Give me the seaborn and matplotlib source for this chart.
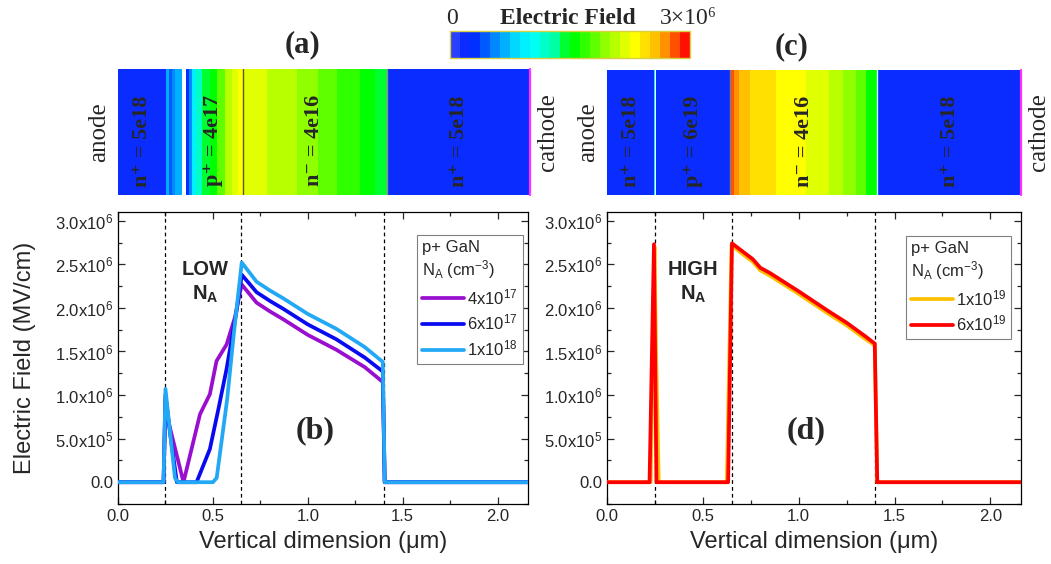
import numpy as np
import pandas as pd
import seaborn as sns
import matplotlib.pyplot as plt
from matplotlib.colors import ListedColormap, Normalize
from matplotlib.cm import ScalarMappable
from matplotlib.ticker import FuncFormatter, MultipleLocator

# ---- data (position in um, field in V/cm) ----
# panel (b): low p+ doping
x_4e17 = [0.0, 0.24, 0.25, 0.265, 0.345, 0.432, 0.484, 0.519, 0.572, 0.616, 0.651,
          0.73, 0.80, 0.87, 1.0, 1.15, 1.30, 1.395, 1.405, 2.16]
E_4e17 = [0, 0, 0.95e6, 0.7e6, 0, 0.78e6, 1.01e6, 1.39e6, 1.58e6, 1.89e6, 2.27e6,
          2.06e6, 1.96e6, 1.87e6, 1.69e6, 1.52e6, 1.32e6, 1.15e6, 0, 0]

x_6e17 = [0.0, 0.24, 0.25, 0.275, 0.31, 0.414, 0.484, 0.53, 0.572, 0.625, 0.652,
          0.73, 0.80, 0.87, 1.0, 1.15, 1.30, 1.395, 1.405, 2.16]
E_6e17 = [0, 0, 1.0e6, 0.55e6, 0, 0, 0.38e6, 0.85e6, 1.3e6, 1.97e6, 2.38e6,
          2.18e6, 2.08e6, 1.99e6, 1.81e6, 1.64e6, 1.43e6, 1.27e6, 0, 0]

x_1e18 = [0.0, 0.24, 0.25, 0.30, 0.315, 0.50, 0.52, 0.575, 0.61, 0.652,
          0.73, 0.80, 0.87, 1.0, 1.15, 1.30, 1.395, 1.405, 2.16]
E_1e18 = [0, 0, 1.07e6, 0.05e6, 0, 0, 0.05e6, 0.95e6, 1.7e6, 2.52e6,
          2.30e6, 2.20e6, 2.11e6, 1.93e6, 1.76e6, 1.55e6, 1.38e6, 0, 0]

# panel (d): high p+ doping
x_1e19 = [0.0, 0.228, 0.248, 0.255, 0.27, 0.625, 0.65, 0.70, 0.76, 0.80, 0.85,
          1.0, 1.15, 1.25, 1.30, 1.35, 1.397, 1.41, 2.16]
E_1e19 = [0, 0, 2.7e6, 1.6e6, 0, 0, 2.72e6, 2.63e6, 2.53e6, 2.43e6, 2.37e6,
          2.16e6, 1.94e6, 1.80e6, 1.72e6, 1.64e6, 1.57e6, 0, 0]

x_6e19 = [0.0, 0.222, 0.245, 0.258, 0.632, 0.652, 0.70, 0.76, 0.80, 0.85,
          1.0, 1.15, 1.25, 1.30, 1.35, 1.397, 1.41, 2.16]
E_6e19 = [0, 0, 2.73e6, 0, 0, 2.74e6, 2.66e6, 2.56e6, 2.46e6, 2.40e6,
          2.19e6, 1.97e6, 1.83e6, 1.75e6, 1.67e6, 1.59e6, 0, 0]

junctions = [0.25, 0.65, 1.4]

labels_b = ['4x10$^{17}$', '6x10$^{17}$', '1x10$^{18}$']
colors_b = ['#9a0fcf', '#0a0af0', '#22a8f5']
labels_d = ['1x10$^{19}$', '6x10$^{19}$']
colors_d = ['#ffc000', '#ff0000']

# device cross-section strips (band edges in um, field in MV/cm)
strip_a_edges = [0, 0.25, 0.265, 0.285, 0.30, 0.335, 0.355, 0.37, 0.39, 0.41, 0.44, 0.48,
                 0.52, 0.56, 0.60, 0.63, 0.655, 0.78, 0.94, 1.05, 1.15, 1.27, 1.35, 1.41, 2.16]
strip_a_vals = [0.19, 0.69, 0.44, 0.56, 0.69, np.nan, 0.31, 0.56, 0.94, 1.19, 1.44, 1.56,
                1.81, 2.06, 2.19, 2.31, 2.19, 2.06, 1.94, 1.81, 1.69, 1.56, 1.44, 0.19]
strip_c_edges = [0, 0.243, 0.248, 0.254, 0.643, 0.665, 0.69, 0.745, 0.88, 1.04, 1.16,
                 1.23, 1.30, 1.35, 1.41, 2.16]
strip_c_vals = [0.19, 0.94, np.nan, 0.19, 2.81, 2.69, 2.56, 2.44, 2.31, 2.19, 2.06,
                1.94, 1.81, 1.56, 0.19]
regions_a = [(0.125, 'n⁺ = 5e18'), (0.5, 'p⁺ = 4e17'), (1.03, 'n⁻ = 4e16'), (1.79, 'n⁺ = 5e18')]
regions_c = [(0.125, 'n⁺ = 5e18'), (0.45, 'p⁺ = 6e19'), (1.03, 'n⁻ = 4e16'), (1.79, 'n⁺ = 5e18')]

band_colors = ['#2a40ff', '#0a2cff', '#0030ff', '#0058ff', '#0088ff', '#00b0ff', '#00d8ff',
               '#00f0ff', '#00fff0', '#00ffc8', '#00ffa0', '#00ff30', '#00ff00', '#30ff00',
               '#60ff00', '#90ff00', '#b8ff00', '#e0ff00', '#ffff00', '#ffe000', '#ffc000',
               '#ff9000', '#ff5000', '#ff1000']

# ---- style ----
sns.set_style('ticks')
plt.rcParams['font.family'] = ['Liberation Sans', 'DejaVu Sans']
plt.rcParams['mathtext.fontset'] = 'custom'
plt.rcParams['mathtext.rm'] = 'Liberation Sans'
plt.rcParams['mathtext.it'] = 'Liberation Sans:italic'
plt.rcParams['mathtext.bf'] = 'Liberation Sans:bold'
serif = ['Liberation Serif', 'DejaVu Serif']

cmap = ListedColormap(band_colors)
cmap.set_bad((1, 1, 1, 0))
norm = Normalize(0, 3e6)

fig = plt.figure(figsize=(10.51, 5.64), dpi=100)
W, H = 1051, 564


def box(l, t, r, b):
    return [l / W, 1 - b / H, (r - l) / W, (b - t) / H]


def sci_fmt(v, pos):
    if abs(v) < 1:
        return '0.0'
    e = int(np.floor(np.log10(abs(v))))
    return f'{v / 10 ** e:.1f}x10$^{{{e}}}$'


def make_df(xs, ys, labels):
    parts = [pd.DataFrame({'x': x, 'E': y, 'NA': lab}) for x, y, lab in zip(xs, ys, labels)]
    return pd.concat(parts, ignore_index=True)


def field_panel(ax, df, labels, colors, tag, tagpos, name, leg_xy):
    for xv in junctions:
        ax.axvline(xv, color='k', lw=0.9, ls=(0, (3, 2.5)), zorder=1)
    sns.lineplot(data=df, x='x', y='E', hue='NA', hue_order=labels,
                 palette=dict(zip(labels, colors)), sort=False, estimator=None,
                 lw=2.7, ax=ax, zorder=3)
    ax.set_xlim(0, 2.16)
    ax.set_ylim(-0.25e6, 3.1e6)
    ax.xaxis.set_major_locator(MultipleLocator(0.5))
    ax.xaxis.set_minor_locator(MultipleLocator(0.25))
    ax.yaxis.set_major_locator(MultipleLocator(0.5e6))
    ax.yaxis.set_minor_locator(MultipleLocator(0.25e6))
    ax.yaxis.set_major_formatter(FuncFormatter(sci_fmt))
    ax.tick_params(which='both', direction='in', top=True, right=True, labelsize=12, width=0.9)
    ax.tick_params(which='major', length=5)
    ax.tick_params(which='minor', length=3)
    for s in ax.spines.values():
        s.set_linewidth(0.9)
        s.set_color('k')
    ax.set_xlabel('Vertical dimension (μm)', fontsize=17, labelpad=5)
    ax.set_ylabel('')
    ax.text(tagpos[0], tagpos[1], name + '\nN$_{\\mathbf{A}}$', transform=ax.transAxes,
            ha='center', va='center', fontsize=14.5, fontweight='bold', linespacing=1.3)
    ax.text(0.48, 0.252, tag, transform=ax.transAxes, ha='center', va='center',
            fontsize=23, fontweight='bold', family=serif)
    sns.move_legend(ax, 'upper left', bbox_to_anchor=leg_xy,
                    title='p+ GaN\nN$_{\\mathregular{A}}$ (cm$^{\\mathregular{-3}}$)',
                    frameon=True, fancybox=False, edgecolor='#808080', framealpha=1,
                    fontsize=12, title_fontsize=12, alignment='left', handlelength=2.5,
                    handletextpad=0.2, labelspacing=0.35, borderpad=0.3, borderaxespad=0)
    leg = ax.get_legend()
    leg.get_frame().set_linewidth(0.8)
    for h in leg.legend_handles:
        h.set_linewidth(2.7)


def strip_panel(ax, edges, vals, regions, tag, seps):
    ax.pcolormesh(edges, [0, 1], np.ma.masked_invalid([np.array(vals) * 1e6]),
                  cmap=cmap, norm=norm, shading='flat')
    for xv, c in seps:
        ax.axvline(xv, color=c, lw=1.0)
    ax.axvline(2.16, color='#ff30ff', lw=1.6, clip_on=False)
    ax.set_xlim(0, 2.16)
    ax.set_ylim(0, 1)
    ax.axis('off')
    for xv, txt in regions:
        ax.text(xv, 0.43, txt, rotation=90, ha='center', va='center', fontsize=16,
                fontweight='bold', family=serif)
    ax.text(-0.045, 0.5, 'anode', transform=ax.transAxes, rotation=90, ha='center',
            va='center', fontsize=18, family=serif)
    ax.text(1.043, 0.5, 'cathode', transform=ax.transAxes, rotation=90, ha='center',
            va='center', fontsize=18, family=serif)
    ax.text(0.447, 1.19, tag, transform=ax.transAxes, ha='center', va='center',
            fontsize=22, fontweight='bold', family=serif)


# ---- strips ----
ax_a = fig.add_axes(box(118, 69, 530, 195))
strip_panel(ax_a, strip_a_edges, strip_a_vals, regions_a, '(a)',
            [(0.655, '#5a5a20'), (1.41, '#909090')])
ax_c = fig.add_axes(box(607, 70, 1021, 195))
strip_panel(ax_c, strip_c_edges, strip_c_vals, regions_c, '(c)',
            [(0.643, '#808080'), (1.41, '#d0ffff')])

# ---- colour bar ----
cax = fig.add_axes(box(450, 31, 690, 58))
cb = fig.colorbar(ScalarMappable(norm=norm, cmap=cmap), cax=cax, orientation='horizontal')
cb.set_ticks([])
cb.outline.set_edgecolor('#d8d040')
cb.outline.set_linewidth(1.0)
fig.text(452 / W, 1 - 18 / H, '0', ha='center', va='center', fontsize=17, family=serif)
fig.text(568 / W, 1 - 18 / H, 'Electric Field', ha='center', va='center', fontsize=17,
         fontweight='bold', family=serif)
fig.text(688 / W, 1 - 18 / H, '3×10⁶', ha='center', va='center', fontsize=17, family=serif)

# ---- field profiles ----
ax_b = fig.add_axes(box(118, 212, 528, 504))
df_b = make_df([x_4e17, x_6e17, x_1e18], [E_4e17, E_6e17, E_1e18], labels_b)
field_panel(ax_b, df_b, labels_b, colors_b, '(b)', (0.212, 0.76), 'LOW', (0.729, 0.921))
ax_b.set_ylabel('Electric Field (MV/cm)', fontsize=17)
ax_b.yaxis.set_label_coords(-0.2, 0.5)

ax_d = fig.add_axes(box(607, 212, 1021, 504))
df_d = make_df([x_1e19, x_6e19], [E_1e19, E_6e19], labels_d)
field_panel(ax_d, df_d, labels_d, colors_d, '(d)', (0.208, 0.76), 'HIGH', (0.722, 0.918))

fig.savefig('out.png', dpi=100)
